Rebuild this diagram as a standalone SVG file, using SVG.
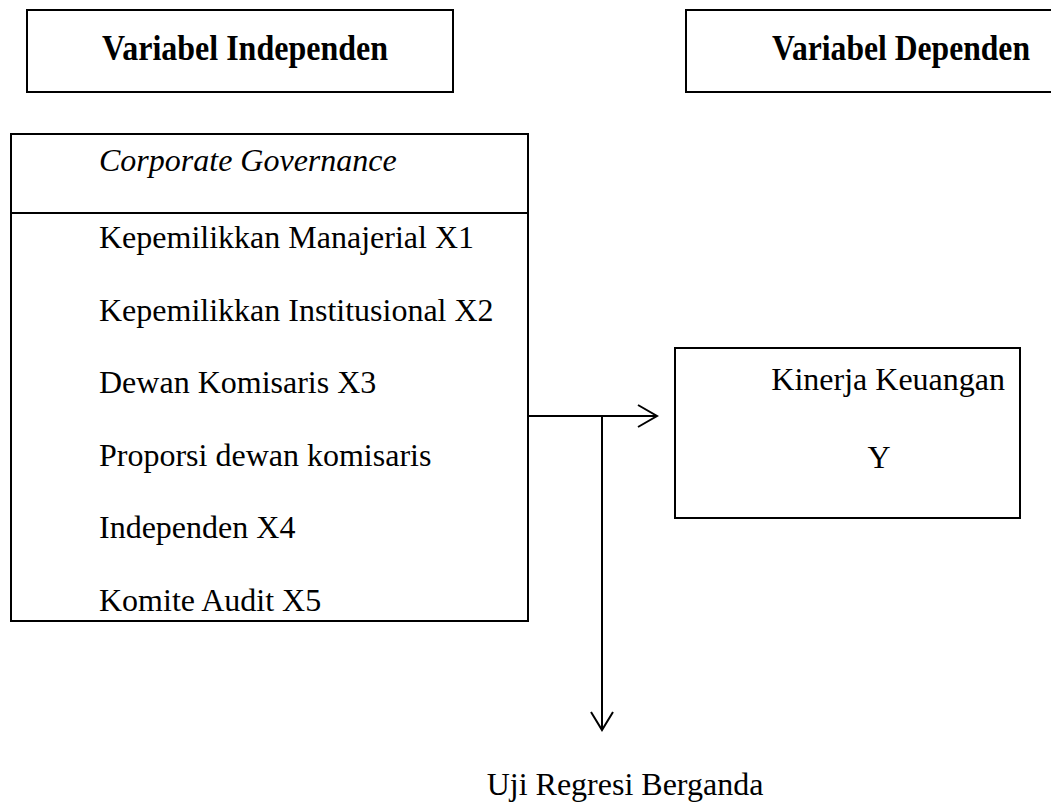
<svg xmlns="http://www.w3.org/2000/svg" width="1051" height="806" viewBox="0 0 1051 806">
<style>
.box{fill:#fff;stroke:#000;stroke-width:2}
.t{font-family:"Liberation Serif","Times New Roman",serif;font-size:32px;fill:#000}
.b{font-weight:bold;font-size:35px}
.i{font-style:italic}
.ln{stroke:#000;stroke-width:2;fill:none}
</style>
<rect width="1051" height="806" fill="#fff"/>
<g id="node-indep-header">
<rect class="box" x="27" y="10" width="426" height="82"/>
<text class="t b" x="102" y="60" textLength="286" lengthAdjust="spacingAndGlyphs">Variabel Independen</text>
</g>
<g id="node-dep-header">
<rect class="box" x="686" y="10" width="380" height="82"/>
<text class="t b" x="772" y="60" textLength="258" lengthAdjust="spacingAndGlyphs">Variabel Dependen</text>
</g>
<g id="node-cg">
<rect class="box" x="11" y="134" width="517" height="487"/>
<line class="ln" x1="11" y1="213" x2="528" y2="213"/>
<text class="t i" x="99" y="171">Corporate Governance</text>
<text class="t" x="99" y="248">Kepemilikkan Manajerial X1</text>
<text class="t" x="99" y="321">Kepemilikkan Institusional X2</text>
<text class="t" x="99" y="393">Dewan Komisaris X3</text>
<text class="t" x="99" y="466">Proporsi dewan komisaris</text>
<text class="t" x="99" y="538">Independen X4</text>
<text class="t" x="99" y="611">Komite Audit X5</text>
</g>
<g id="node-kinerja">
<rect class="box" x="675" y="348" width="345" height="170"/>
<text class="t" x="1005" y="390" text-anchor="end">Kinerja Keuangan</text>
<text class="t" x="879" y="468" text-anchor="middle">Y</text>
</g>
<g id="node-uji">
<text class="t" x="625" y="795" text-anchor="middle">Uji Regresi Berganda</text>
</g>
<g id="connectors">
<line class="ln" x1="528" y1="416" x2="657" y2="416"/>
<polyline class="ln" points="638,405 657,416 638,427"/>
<line class="ln" x1="602" y1="416" x2="602" y2="730"/>
<polyline class="ln" points="591,712 602,730 613,712"/>
</g>
</svg>
